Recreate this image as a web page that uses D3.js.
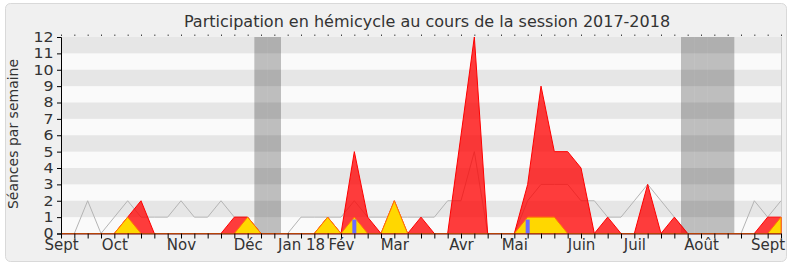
<!DOCTYPE html>
<html>
<head>
<meta charset="utf-8">
<script src="https://cdn.jsdelivr.net/npm/d3@7"></script>
<style>
  body { margin: 0; background: #fff; }
  text { font-family: "DejaVu Sans", sans-serif; fill: #333; }
</style>
</head>
<body>
<div id="chart"></div>
<script>
const width = 790;
const height = 267;

// weekly values, session Sept 2017 -> Sept 2018 (55 weeks)
const presence = [0, 0, 0, 0, 0, 1, 2, 0, 0, 0, 0, 0, 0, 1, 1, 0, 0, 0, 0, 0,
  1, 0, 5, 1, 0, 2, 0, 1, 0, 0, 6, 12, 0, 0, 0, 3, 9, 5, 5, 4,
  0, 1, 0, 0, 3, 0, 1, 0, 0, 0, 0, 0, 0, 1, 1];
const moyenne = [0, 0, 2, 0, 1, 2, 1, 1, 1, 2, 1, 1, 2, 1, 1, 0, 0, 0, 1, 1,
  1, 1, 2, 1, 1, 1, 1, 1, 1, 2, 2, 5, 0, 0, 0, 2, 3, 3, 3, 2,
  2, 1, 1, 2, 3, 2, 1, 0, 0, 0, 0, 0, 2, 1, 2];
const interventions = [0, 0, 0, 0, 0, 1, 0, 0, 0, 0, 0, 0, 0, 0, 1, 0, 0, 0, 0, 0,
  1, 0, 1, 0, 0, 2, 0, 0, 0, 0, 0, 0, 0, 0, 0, 1, 1, 1, 0, 0,
  0, 0, 0, 0, 0, 0, 0, 0, 0, 0, 0, 0, 0, 0, 1];
const questionWeeks = [22, 35];
const questionValues = [0.85, 0.85];
const vacationWeeks = [15, 16, 47, 48, 49, 50];
const monthLabels = ["Sept", "Oct", "Nov", "Déc", "Jan 18", "Fév", "Mar", "Avr",
  "Mai", "Juin", "Juil", "Août", "Sept"];
const monthWeeks = [0, 4, 9, 14, 18, 21, 25, 30, 34, 39, 43, 48, 53];

const plot = { left: 61, right: 781, top: 37, bottom: 233.5 };

const svg = d3
  .select("#chart")
  .append("svg")
  .attr("width", width)
  .attr("height", height);

// frame
svg.append("rect")
  .attr("x", 5.5).attr("y", 3.5)
  .attr("width", 781).attr("height", 258)
  .attr("rx", 5)
  .attr("fill", "#f0f0f0")
  .attr("stroke", "#d9d9d9");

const x = d3.scaleLinear().domain([0, presence.length - 1]).range([plot.left, plot.right]);
const y = d3.scaleLinear().domain([0, 12]).range([plot.bottom, plot.top]);

// plot background + stripes
svg.append("rect")
  .attr("x", plot.left).attr("y", y(12))
  .attr("width", plot.right - plot.left).attr("height", y(0) - y(12))
  .attr("fill", "#fafafa");

svg.selectAll("rect.stripe")
  .data(d3.range(1, 12, 2))
  .enter()
  .append("rect")
  .attr("class", "stripe")
  .attr("x", plot.left)
  .attr("y", (d) => y(d + 1))
  .attr("width", plot.right - plot.left)
  .attr("height", (d) => y(d) - y(d + 1))
  .attr("fill", "#e6e6e6");

svg.append("line")
  .attr("x1", plot.right + 0.5).attr("x2", plot.right + 0.5)
  .attr("y1", y(12)).attr("y2", y(0))
  .attr("stroke", "#cfcfcf");

// average line
svg.append("path")
  .datum(moyenne)
  .attr("fill", "none")
  .attr("stroke", "#b4b4b4")
  .attr("stroke-width", 1)
  .attr("d", d3.line().x((d, i) => x(i)).y((d) => y(d)));

// holidays
svg.selectAll("rect.vac")
  .data(vacationWeeks)
  .enter()
  .append("rect")
  .attr("class", "vac")
  .attr("x", (d) => x(d - 0.5))
  .attr("y", y(12))
  .attr("width", (d) => x(d + 0.5) - x(d - 0.5))
  .attr("height", y(0) - y(12))
  .attr("fill", "#000")
  .attr("fill-opacity", 0.24);

const area = d3.area()
  .x((d, i) => x(i))
  .y0(y(0))
  .y1((d) => y(d));

svg.append("path")
  .datum(presence)
  .attr("fill", "#ff0000")
  .attr("fill-opacity", 0.76)
  .attr("stroke", "#ff0000")
  .attr("stroke-width", 1)
  .attr("d", area);

svg.append("path")
  .datum(interventions)
  .attr("fill", "#ffd700")
  .attr("stroke", "#ff7a00")
  .attr("stroke-width", 1)
  .attr("d", area);

svg.selectAll("rect.question")
  .data(questionWeeks)
  .enter()
  .append("rect")
  .attr("class", "question")
  .attr("x", (d) => x(d) - 2)
  .attr("y", (d, i) => y(questionValues[i]))
  .attr("width", 4)
  .attr("height", (d, i) => y(0) - y(questionValues[i]))
  .attr("fill", "#6b6bff");

// axes
const yAxis = svg.append("g")
  .attr("transform", `translate(${plot.left},0)`)
  .call(d3.axisLeft(y).ticks(12).tickSize(4).tickPadding(2.5));
// slightly wide digits like the original, kept short enough not to collide
yAxis.selectAll("text")
  .style("font-size", "14px")
  .attr("transform", "scale(1.13,1)");
yAxis.select(".domain").attr("stroke", "#000");

const weeks = d3.range(presence.length);

const xAxis = svg.append("g")
  .attr("transform", `translate(0,${plot.bottom})`)
  .call(d3.axisBottom(x).tickValues(weeks).tickSize(5).tickFormat("").tickSizeOuter(0));
xAxis.select(".domain").attr("stroke", "#6a0d0d");

const monthAxis = svg.append("g")
  .attr("transform", `translate(0,${plot.bottom})`)
  .call(d3.axisBottom(x).tickValues(monthWeeks).tickSize(0).tickPadding(6)
    .tickFormat((d, i) => monthLabels[i]));
monthAxis.select(".domain").remove();
monthAxis.selectAll("text").style("font-size", "15px");

const topAxis = svg.append("g")
  .attr("transform", `translate(0,${plot.top - 1})`)
  .call(d3.axisTop(x).tickValues(weeks).tickSize(1.5).tickFormat(""));
topAxis.select(".domain").remove();
topAxis.selectAll("line").attr("stroke", "#444");

// titles
svg.append("text")
  .attr("x", 427)
  .attr("y", 26.5)
  .attr("text-anchor", "middle")
  .style("font-size", "16px")
  .text("Participation en hémicycle au cours de la session 2017-2018");

svg.append("text")
  .attr("transform", "translate(18,134) rotate(-90)")
  .attr("text-anchor", "middle")
  .style("font-size", "14px")
  .text("Séances par semaine");
</script>
</body>
</html>
